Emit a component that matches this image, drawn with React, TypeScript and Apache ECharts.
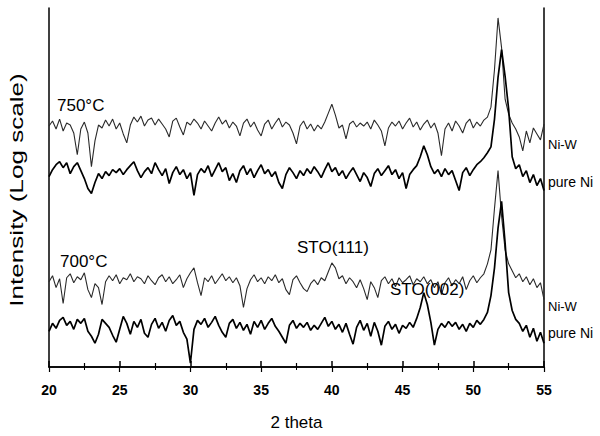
import React, { useEffect, useRef } from "react";
import * as echarts from "echarts";

// 2-theta sampling (degrees), 0.25 step from 20 to 55
const thetaStart = 20;
const thetaStep = 0.25;

// Intensity traces (arbitrary offset units, log-scale stacked)
const niW750 = [
  243, 248, 240, 250, 238, 246, 244, 236, 214, 240, 247, 236, 202, 228, 244, 241, 249, 243, 250, 240,
  246, 235, 226, 244, 252, 247, 253, 243, 249, 251, 244, 250, 245, 240, 232, 248, 251, 242, 234, 247,
  244, 250, 246, 240, 248, 243, 238, 246, 252, 245, 249, 241, 247, 243, 233, 246, 250, 242, 247, 239,
  233, 245, 249, 240, 246, 251, 242, 247, 244, 236, 225, 243, 248, 240, 245, 238, 244, 240, 247, 256,
  265, 254, 241, 244, 230, 245, 248, 242, 246, 243, 247, 240, 249, 244, 238, 223, 241, 247, 243, 248,
  240, 246, 251, 242, 247, 239, 245, 249, 241, 246, 236, 213, 240, 246, 238, 248, 243, 236, 246, 250,
  241, 247, 243, 249, 252, 262, 300, 352, 322, 270, 255, 246, 240, 232, 218, 238, 226, 241, 235, 229,
  245,
];
const pureNi750 = [
  192, 199, 204, 207, 201, 206, 195, 202, 206, 198, 190, 180, 175, 186, 195, 190, 197, 193, 199, 196,
  200, 194, 199, 203, 207, 198, 191, 197, 201, 195, 206, 199, 193, 200, 185, 196, 202, 194, 199, 190,
  196, 173, 194, 200, 196, 203, 192, 199, 206, 197, 201, 188, 195, 186, 198, 203, 194, 200, 191, 198,
  204, 195, 199, 192, 197, 186, 180, 194, 201, 196, 190, 198, 193, 200, 195, 202, 197, 191, 199, 206,
  197, 201, 193, 198, 190, 196, 201, 194, 187, 196, 191, 182, 195, 200, 193, 198, 203, 194, 199, 190,
  196, 180, 194, 199, 203, 212, 223, 214, 202, 195, 199, 192, 200, 194, 198, 188, 178, 196, 201, 193,
  199, 204, 207, 211, 216, 222, 250, 292, 320, 293, 260, 212, 200, 204, 192, 198, 186, 194, 183, 190,
  178,
];
const niW700 = [
  86, 92, 80, 89, 64, 90, 94, 85, 91, 88, 95, 78, 70, 84, 80, 63, 86, 92, 87, 93,
  84, 90, 88, 94, 86, 91, 89, 84, 92, 87, 83, 90, 93, 86, 91, 84, 88, 93, 80, 89,
  95, 100, 85, 72, 90, 86, 92, 84, 89, 94, 87, 91, 85, 90, 82, 60, 79, 88, 93, 86,
  90, 84, 91, 87, 93, 85, 89, 78, 73, 88, 92, 85, 79, 76, 84, 88, 83, 90, 87, 96,
  105, 100, 89, 92, 84, 90, 86, 80, 88, 79, 68, 86, 80, 70, 87, 91, 84, 89, 81, 90,
  85, 88, 92, 83, 89, 86, 91, 84, 88, 80, 86, 73, 85, 90, 82, 88, 84, 91, 78, 87,
  92, 85, 90, 94, 104, 118, 160, 198, 152, 118, 104, 97, 90, 94, 86, 91, 83, 89, 80, 85,
  68,
];
const pureNi700 = [
  36, 44, 39, 47, 50, 42, 46, 38, 48, 44, 49, 36, 31, 24, 33, 48, 44, 40, 32, 25,
  38, 51, 44, 33, 46, 40, 48, 34, 30, 43, 49, 39, 45, 36, 47, 52, 42, 46, 35, 28,
  4, 38, 47, 43, 49, 40, 45, 51, 42, 35, 30, 44, 48, 39, 45, 37, 43, 33, 46, 40,
  47, 38, 44, 49, 41, 36, 30, 24, 42, 47, 39, 44, 40, 45, 37, 42, 38, 44, 50, 41,
  46, 38, 43, 35, 44, 33, 23, 40, 47, 37, 44, 31, 45, 36, 22, 41, 46, 38, 43, 34,
  42, 39, 45, 40, 49, 60, 75, 63, 45, 22, 38, 44, 40, 46, 41, 45, 38, 43, 36, 44,
  40, 47, 43, 48, 55, 72, 100, 140, 167, 125, 75, 57, 48, 44, 36, 42, 30, 39, 26, 35,
  24,
];

const xTicks = [20, 25, 30, 35, 40, 45, 50, 55];

const toPairs = (vals: number[]) => vals.map((v, i) => [thetaStart + i * thetaStep, v]);

export default function App() {
  const ref = useRef<HTMLDivElement>(null);
  useEffect(() => {
    if (!ref.current) return;
    const chart = echarts.init(ref.current, undefined, { renderer: "svg" });
    const font = "Arial, 'Liberation Sans', sans-serif";
    const thin = { color: "#2a2a2a", width: 1.1 };
    const thick = { color: "#000", width: 1.7 };
    const label = (text: string, x: number, y: number, size: number) => ({
      type: "text",
      left: x,
      top: y,
      style: { text, fill: "#000", font: `${size}px ${font}` },
      z: 10,
    });
    chart.setOption({
      animation: false,
      backgroundColor: "#fff",
      grid: { left: 49, right: 56, top: 8, bottom: 66 },
      xAxis: [
        {
          type: "value",
          min: xTicks[0],
          max: xTicks[xTicks.length - 1],
          interval: 5,
          name: "2 theta",
          nameLocation: "middle",
          nameGap: 47,
          nameTextStyle: { fontFamily: font, fontSize: 17, color: "#000" },
          axisLine: { lineStyle: { color: "#000", width: 1.5 } },
          axisTick: { inside: true, length: 6, lineStyle: { color: "#000", width: 1.5 } },
          minorTick: { show: true, splitNumber: 2, length: 4, lineStyle: { color: "#000", width: 1.2 } },
          axisLabel: { margin: 16, fontFamily: font, fontSize: 14, fontWeight: "bold", color: "#000" },
          splitLine: { show: false },
        },
        {
          type: "value",
          position: "top",
          min: xTicks[0],
          max: xTicks[xTicks.length - 1],
          interval: 5,
          axisLine: { lineStyle: { color: "#000", width: 1.5 } },
          axisTick: { inside: true, length: 5, lineStyle: { color: "#000", width: 1.2 } },
          minorTick: { show: true, splitNumber: 2, length: 3, lineStyle: { color: "#000" } },
          axisLabel: { show: false },
          splitLine: { show: false },
        },
      ],
      yAxis: [
        {
          type: "value",
          min: 0,
          max: 362,
          axisLine: { show: true, lineStyle: { color: "#000", width: 1.5 } },
          axisTick: { show: false },
          axisLabel: { show: false },
          splitLine: { show: false },
        },
        {
          type: "value",
          position: "right",
          min: 0,
          max: 362,
          axisLine: { show: true, lineStyle: { color: "#000", width: 1.5 } },
          axisTick: { show: false },
          axisLabel: { show: false },
          splitLine: { show: false },
        },
      ],
      series: [
        { type: "line", name: "Ni-W 750", data: toPairs(niW750), showSymbol: false, lineStyle: thin },
        { type: "line", name: "pure Ni 750", data: toPairs(pureNi750), showSymbol: false, lineStyle: thick },
        { type: "line", name: "Ni-W 700", data: toPairs(niW700), showSymbol: false, lineStyle: thin },
        { type: "line", name: "pure Ni 700", data: toPairs(pureNi700), showSymbol: false, lineStyle: thick },
      ],
      graphic: [
        {
          type: "text",
          x: 17,
          y: 190,
          rotation: Math.PI / 2,
          scaleX: 1.45,
          style: {
            text: "Intensity (Log scale)",
            fill: "#000",
            font: `18px ${font}`,
            align: "center",
            verticalAlign: "middle",
          },
        },
        label("750°C", 57, 97, 17),
        label("700°C", 60, 253, 17),
        label("STO(111)", 297, 239, 17),
        label("STO(002)", 390, 281, 17),
        label("Ni-W", 548, 138, 13),
        label("pure Ni", 548, 175, 14),
        label("Ni-W", 548, 300, 13),
        label("pure Ni", 548, 326, 14),
      ],
    });
    return () => chart.dispose();
  }, []);
  return (
    <div
      ref={ref}
      style={{ position: "absolute", left: 0, top: 0, width: 600, height: 436 }}
    />
  );
}
